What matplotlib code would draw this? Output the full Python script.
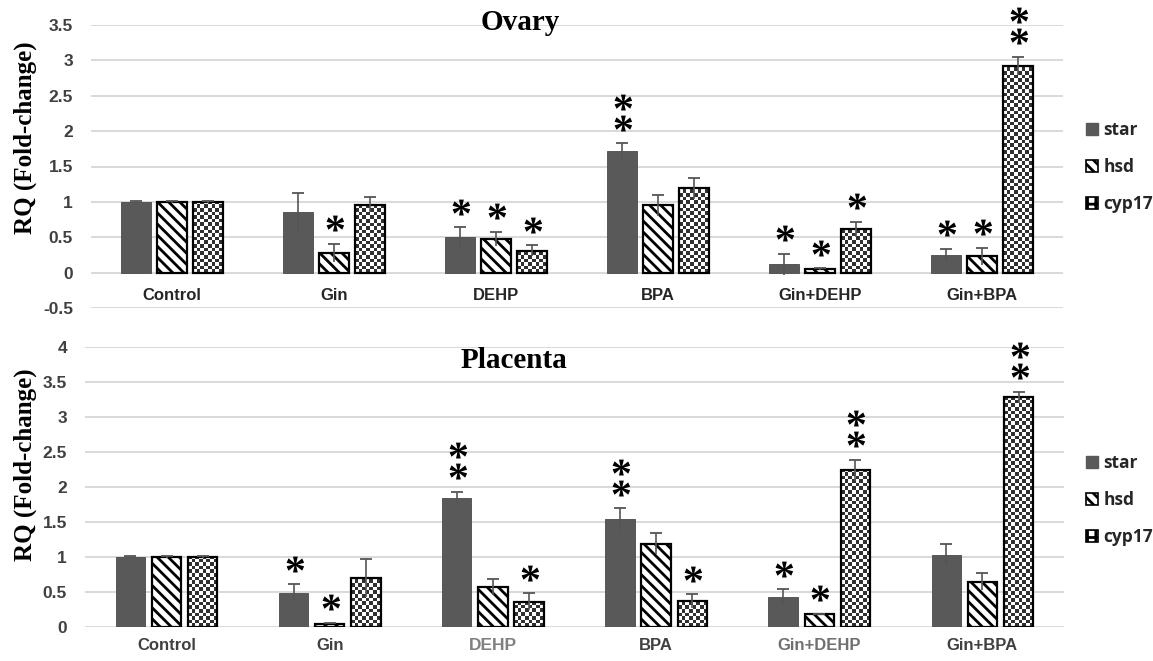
import numpy as np
import matplotlib
matplotlib.use("Agg")
import matplotlib.pyplot as plt
from matplotlib.colors import ListedColormap
from matplotlib.patches import Patch
from matplotlib.transforms import ScaledTranslation
from matplotlib.textpath import TextPath
from matplotlib.font_manager import FontProperties
from matplotlib.path import Path

plt.rcParams['hatch.linewidth'] = 2.0

categories = ["Control", "Gin", "DEHP", "BPA", "Gin+DEHP", "Gin+BPA"]
genes = ["star", "hsd", "cyp17"]

# Ovary
ovary_star = [1.00, 0.85, 0.51, 1.72, 0.12, 0.25]
ovary_hsd = [1.00, 0.28, 0.48, 0.95, 0.05, 0.23]
ovary_cyp17 = [1.00, 0.96, 0.31, 1.19, 0.61, 2.92]
ovary_star_err = [0.01, 0.28, 0.13, 0.11, 0.15, 0.09]
ovary_hsd_err = [0.01, 0.13, 0.10, 0.15, 0.01, 0.12]
ovary_cyp17_err = [0.01, 0.11, 0.08, 0.15, 0.11, 0.13]
ovary_star_sig = [0, 0, 1, 2, 1, 1]
ovary_hsd_sig = [0, 1, 1, 0, 1, 1]
ovary_cyp17_sig = [0, 0, 1, 0, 1, 2]

# Placenta
plac_star = [1.00, 0.49, 1.84, 1.54, 0.43, 1.03]
plac_hsd = [1.00, 0.05, 0.57, 1.19, 0.18, 0.65]
plac_cyp17 = [1.00, 0.70, 0.36, 0.37, 2.24, 3.28]
plac_star_err = [0.01, 0.12, 0.09, 0.16, 0.11, 0.15]
plac_hsd_err = [0.01, 0.01, 0.11, 0.15, 0.01, 0.12]
plac_cyp17_err = [0.01, 0.27, 0.12, 0.10, 0.15, 0.08]
plac_star_sig = [0, 1, 2, 2, 1, 0]
plac_hsd_sig = [0, 1, 0, 0, 1, 0]
plac_cyp17_sig = [0, 0, 1, 1, 2, 2]

top_yticks = [-0.5, 0, 0.5, 1, 1.5, 2, 2.5, 3, 3.5]
top_ylabels = ["-0.5", "0", "0.5", "1", "1.5", "2", "2.5", "3", "3.5"]
bot_yticks = [0, 0.5, 1, 1.5, 2, 2.5, 3, 3.5, 4]
bot_ylabels = ["0", "0.5", "1", "1.5", "2", "2.5", "3", "3.5", "4"]

STAR_COLOR = "#595959"
GRID = "#d9d9d9"
TICK_COLOR = "#404040"
SANS = "Liberation Sans"
SERIF = "Liberation Serif"

# asterisk marker from a serif font, centred
_tp = TextPath((0, 0), "*", size=10, prop=FontProperties(family=SERIF, weight="bold"))
_v = _tp.vertices.copy()
_v[:, 0] -= (_v[:, 0].min() + _v[:, 0].max()) / 2
_v[:, 1] -= (_v[:, 1].min() + _v[:, 1].max()) / 2
AST = Path(_v, _tp.codes)

fig = plt.figure(figsize=(11.53, 6.61), dpi=100)
ax_top = fig.add_axes([91 / 1153, 1 - 308 / 661, 972 / 1153, (308 - 25) / 661])
ax_bot = fig.add_axes([85 / 1153, 1 - 627 / 661, 979 / 1153, (627 - 347) / 661])

W = 0.18
OFF = 0.222
cmap_chk = ListedColormap(["white", "#303030"])


def checker_fill(ax, rect, x0, width, height):
    p0 = ax.transData.transform((0, 0))
    p1 = ax.transData.transform((1, 1))
    sx, sy = p1[0] - p0[0], p1[1] - p0[1]
    cell = 3.6
    dx, dy = cell / sx, cell / sy
    ncol = max(1, int(np.ceil(width / dx)))
    nrow = max(1, int(np.ceil(height / dy)))
    arr = np.add.outer(np.arange(nrow), np.arange(ncol)) % 2
    im = ax.imshow(arr, cmap=cmap_chk, extent=[x0, x0 + ncol * dx, 0, nrow * dy],
                   origin="lower", interpolation="nearest", aspect="auto", zorder=2,
                   vmin=0, vmax=1)
    im.set_clip_path(rect)


def draw_panel(ax, series, errs, sigs, ylim, yticks, ylabels):
    ax.set_xlim(-0.5, len(categories) - 0.5)
    ax.set_ylim(*ylim)
    ax.set_yticks(yticks)
    ax.set_yticklabels(ylabels)
    for s in ax.spines.values():
        s.set_visible(False)
    ax.yaxis.grid(True, color=GRID, lw=1.4)
    ax.set_axisbelow(True)
    ax.tick_params(axis="y", length=0, pad=13, labelcolor=TICK_COLOR)
    for lab in ax.get_yticklabels():
        lab.set_fontfamily(SANS)
        lab.set_fontweight("bold")
        lab.set_fontsize(12.5)
    x = np.arange(len(categories))
    for j, (vals, err, sig) in enumerate(zip(series, errs, sigs)):
        xs = x + (j - 1) * OFF
        if j == 0:
            ax.bar(xs, vals, W, color=STAR_COLOR, edgecolor="#4a4a4a", lw=0.6, zorder=2)
        elif j == 1:
            ax.bar(xs, vals, W, color="white", edgecolor="black", hatch="\\\\\\",
                   lw=1.6, zorder=2)
        else:
            bars = ax.bar(xs, vals, W, facecolor="none", edgecolor="black", lw=1.6, zorder=3)
            for b, v in zip(bars, vals):
                checker_fill(ax, b, b.get_x(), b.get_width(), v)
        vals = np.array(vals)
        err = np.array(err)
        ax.vlines(xs, vals - err, vals + err, color="#555555", lw=1.2, zorder=4)
        ax.plot(xs, vals + err, ls="none", marker="_", ms=8, mew=1.3,
                color="#555555", zorder=4)
        for xi, top, n in zip(xs, vals + err, sig):
            for k in range(n):
                tr = ax.transData + ScaledTranslation(0, (0.145 + 0.21 * k), fig.dpi_scale_trans)
                ax.plot([xi], [top], ls="none", marker=AST, ms=20, color="black",
                        mew=0, transform=tr, zorder=5, clip_on=False)
    ax.set_xlim(-0.5, len(categories) - 0.5)
    ax.set_ylim(*ylim)


draw_panel(ax_top, [ovary_star, ovary_hsd, ovary_cyp17],
           [ovary_star_err, ovary_hsd_err, ovary_cyp17_err],
           [ovary_star_sig, ovary_hsd_sig, ovary_cyp17_sig],
           (-0.5, 3.5), top_yticks, top_ylabels)
draw_panel(ax_bot, [plac_star, plac_hsd, plac_cyp17],
           [plac_star_err, plac_hsd_err, plac_cyp17_err],
           [plac_star_sig, plac_hsd_sig, plac_cyp17_sig],
           (0, 4), bot_yticks, bot_ylabels)

# category labels
ax_top.set_xticks([])
for i, c in enumerate(categories):
    ax_top.text(i, -0.32, c, ha="center", va="center", fontfamily=SANS,
                fontweight="bold", fontsize=12, color="#262626")
ax_bot.set_xticks(np.arange(len(categories)))
ax_bot.set_xticklabels(categories)
ax_bot.tick_params(axis="x", length=0, pad=8)
bot_colors = ["#404040", "#404040", "#808080", "#404040", "#707070", "#404040"]
bot_sizes = [12, 12, 12.5, 12, 12, 12]
for lab, col, fs in zip(ax_bot.get_xticklabels(), bot_colors, bot_sizes):
    lab.set_fontfamily(SANS)
    lab.set_fontweight("bold")
    lab.set_color(col)
    lab.set_fontsize(fs)

# titles
fig.text(520 / 1153, 1 - 23 / 661, "Ovary", ha="center", va="center",
         fontfamily=SERIF, fontweight="bold", fontsize=21)
fig.text(514 / 1153, 1 - 361 / 661, "Placenta", ha="center", va="center",
         fontfamily=SERIF, fontweight="bold", fontsize=21)

# y labels
fig.text(25 / 1153, 1 - 138 / 661, "RQ (Fold-change)", rotation=90, ha="center",
         va="center", fontfamily=SERIF, fontweight="bold", fontsize=18)
fig.text(25 / 1153, 1 - 465 / 661, "RQ (Fold-change)", rotation=90, ha="center",
         va="center", fontfamily=SERIF, fontweight="bold", fontsize=18)

# legends
handles = [Patch(facecolor=STAR_COLOR, edgecolor=STAR_COLOR, label="star"),
           Patch(facecolor="white", edgecolor="black", hatch="\\\\\\", lw=1.2, label="hsd"),
           Patch(facecolor="white", edgecolor="black", hatch="++", lw=1.2, label="cyp17")]
for yc in (1 - 167 / 661, 1 - 500 / 661):
    fig.legend(handles=handles, loc="center left", bbox_to_anchor=(1086 / 1153, yc),
               frameon=False, handlelength=0.7, handleheight=0.7, handletextpad=0.3,
               labelspacing=1.1, borderaxespad=0, borderpad=0,
               prop={"family": "Open Sans", "weight": "bold", "size": 12.5},
               labelcolor="#262626")

fig.savefig("out.png", dpi=100)
